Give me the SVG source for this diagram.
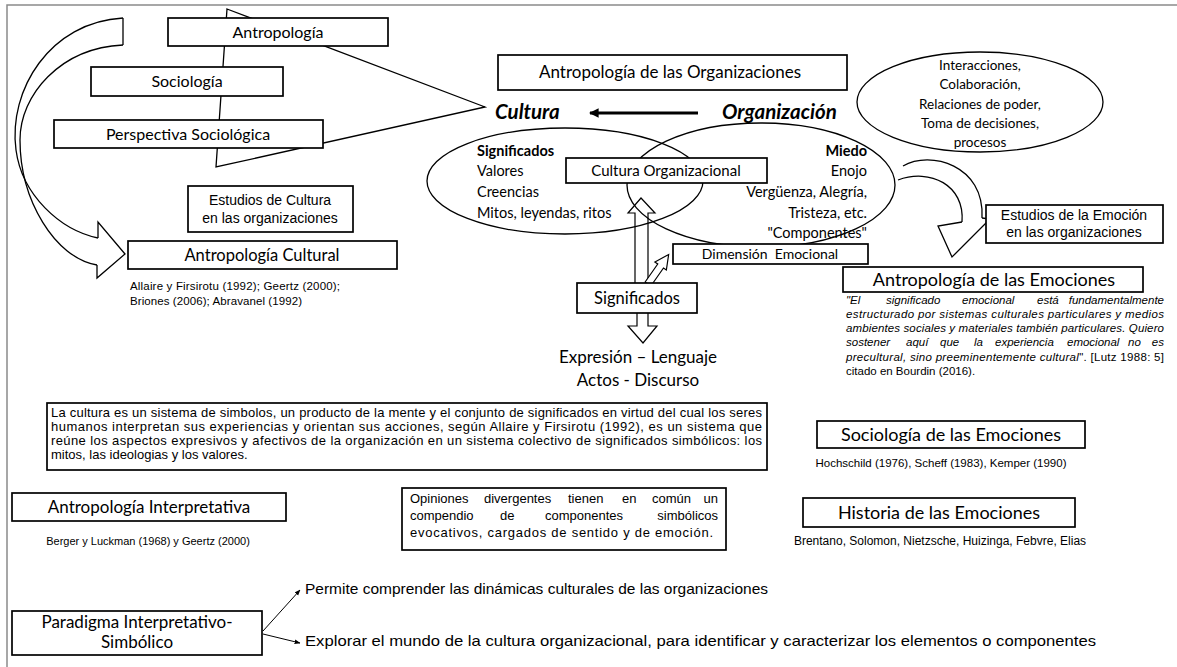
<svg xmlns="http://www.w3.org/2000/svg" width="1177" height="667" viewBox="0 0 1177 667">
<style>
  .box { fill: #fff; stroke: #000; stroke-width: 1.7; }
  .ln { fill: none; stroke: #000; stroke-width: 1.3; }
  .blk { fill: #fff; stroke: #000; stroke-width: 1.2; }
  .t { font-family: Lato, "Open Sans", sans-serif; fill: #000; }
  .a { font-family: "Liberation Sans", Arial, sans-serif; fill: #000; }
  .c { text-anchor: middle; }
  .r { text-anchor: end; }
</style>
<defs>
  <marker id="arrL" viewBox="0 0 10 10" refX="9" refY="5" markerWidth="3.2" markerHeight="3.2" orient="auto">
    <path d="M0,0 L10,5 L0,10 Z" fill="#000"/>
  </marker>
  <marker id="arrS" viewBox="0 0 10 10" refX="9" refY="5" markerWidth="6" markerHeight="6" orient="auto">
    <path d="M0,1 L10,5 L0,9 Z" fill="#000"/>
  </marker>
</defs>
<rect width="1177" height="667" fill="#fff"/>
<!-- page frame -->
<path d="M7,667 L7,5 L1177,5" fill="none" stroke="#8a8a8a" stroke-width="1.5"/>

<g id="connectors">
  <!-- wedge gathering the disciplines towards Cultura -->
  <polygon points="227,9 485,107 216,167" class="ln"/>
  <!-- big curved arrow on the left -->
  <path class="ln" d="M123,18 L123,45"/>
  <path class="ln" d="M123,18 C50,22 8,90 16,150 C22,195 60,230 98,238"/>
  <path class="ln" d="M123,45 C60,48 20,95 20,140 C20,200 55,258 97,265"/>
  <path class="ln" d="M98,238 L98,222 L125,254 L97,278 L97,265"/>
  <!-- Organización to Cultura -->
  <line x1="698" y1="113" x2="590" y2="113" stroke="#000" stroke-width="3" marker-end="url(#arrL)"/>
  <!-- curved arrow on the right -->
  <path class="ln" d="M903,166 C930,150 985,165 982,218"/>
  <path class="ln" d="M898,180 C930,168 965,185 962,222"/>
  <path class="ln" d="M982,218 L990,219 L952,257 L938,226 L962,222"/>
  <!-- up / down block arrow through Significados -->
  <path class="blk" d="M635,300 L635,213 L628,213 L641,198 L655,213 L648,213 L648,300"/>
  <path class="blk" d="M637,313 L637,326 L628,326 L643,343 L657,326 L648,326 L648,313"/>
  <!-- small block arrow to Dimensión Emocional -->
  <path class="blk" transform="translate(648,284) rotate(-55)" d="M0,-3.5 L22,-3.5 L22,-7 L36,0 L22,7 L22,3.5 L0,3.5 Z"/>
  <!-- Paradigma branches -->
  <line x1="263" y1="631" x2="300" y2="590" stroke="#000" stroke-width="1" marker-end="url(#arrS)"/>
  <line x1="263" y1="634" x2="300" y2="643" stroke="#000" stroke-width="1" marker-end="url(#arrS)"/>
</g>

<g id="antropologia">
  <rect class="box" x="168" y="18" width="220" height="28"/>
  <text class="t c" x="278" y="38" font-size="16">Antropología</text>
</g>
<g id="sociologia">
  <rect class="box" x="91" y="67" width="192" height="29"/>
  <text class="t c" x="187" y="87" font-size="16">Sociología</text>
</g>
<g id="perspectiva">
  <rect class="box" x="54" y="120" width="269" height="28"/>
  <text class="t c" x="188" y="140" font-size="16">Perspectiva Sociológica</text>
</g>
<g id="estudios-cultura">
  <rect class="box" x="188" y="186" width="165" height="46" stroke-width="1.2"/>
  <text class="a c" x="270" y="205" font-size="14">Estudios de Cultura</text>
  <text class="a c" x="270" y="223" font-size="14">en las organizaciones</text>
</g>
<g id="antropologia-cultural">
  <rect class="box" x="128" y="241" width="269" height="28"/>
  <text class="t c" x="262" y="261" font-size="16.5">Antropología Cultural</text>
  <text class="a" x="130" y="290" font-size="11.5" textLength="210" lengthAdjust="spacing">Allaire y Firsirotu (1992); Geertz (2000);</text>
  <text class="a" x="130" y="305" font-size="11.5" textLength="172" lengthAdjust="spacing">Briones (2006); Abravanel (1992)</text>
</g>

<g id="antropologia-organizaciones">
  <rect class="box" x="498" y="55" width="349" height="35"/>
  <text class="t c" x="670" y="78" font-size="17">Antropología de las Organizaciones</text>
</g>
<g id="cultura">
  <text class="t" x="495" y="119" font-size="20.5" font-weight="bold" font-style="italic">Cultura</text>
</g>
<g id="organizacion">
  <text class="t" x="722" y="119" font-size="20.5" font-weight="bold" font-style="italic">Organización</text>
</g>
<g id="interacciones">
  <ellipse class="ln" cx="980" cy="102" rx="123" ry="50"/>
  <text class="t c" x="980" y="70" font-size="13.5">Interacciones,</text>
  <text class="t c" x="980" y="89" font-size="13.5">Colaboración,</text>
  <text class="t c" x="980" y="109" font-size="13.5">Relaciones de poder,</text>
  <text class="t c" x="980" y="128" font-size="13.5">Toma de decisiones,</text>
  <text class="t c" x="980" y="147" font-size="13.5">procesos</text>
</g>

<g id="significados-elipse">
  <ellipse class="ln" cx="565" cy="181" rx="138" ry="53"/>
  <text class="t" x="477" y="156" font-size="14.5" font-weight="bold">Significados</text>
  <text class="t" x="477" y="176" font-size="14.5">Valores</text>
  <text class="t" x="477" y="197" font-size="14.5">Creencias</text>
  <text class="t" x="477" y="218" font-size="14.5">Mitos, leyendas, ritos</text>
</g>
<g id="emociones-elipse">
  <ellipse class="ln" cx="761" cy="185" rx="134" ry="62"/>
  <text class="t r" x="867" y="156" font-size="14.5" font-weight="bold">Miedo</text>
  <text class="t r" x="867" y="176" font-size="14.5">Enojo</text>
  <text class="t r" x="867" y="197" font-size="14.5">Vergüenza, Alegría,</text>
  <text class="t r" x="867" y="218" font-size="14.5">Tristeza, etc.</text>
  <text class="t r" x="867" y="238" font-size="14.5">"Componentes"</text>
</g>
<g id="cultura-organizacional">
  <rect class="box" x="566" y="158" width="201" height="25"/>
  <text class="t c" x="666" y="176" font-size="15">Cultura Organizacional</text>
</g>
<g id="dimension-emocional">
  <rect class="box" x="673" y="244" width="195" height="20"/>
  <text class="t c" x="770" y="259" font-size="14" xml:space="preserve">Dimensión  Emocional</text>
</g>
<g id="significados">
  <rect class="box" x="577" y="283" width="120" height="30"/>
  <text class="t c" x="637" y="304" font-size="16.5">Significados</text>
</g>
<g id="expresion">
  <text class="t c" x="638" y="363" font-size="17">Expresión – Lenguaje</text>
  <text class="t c" x="638" y="386" font-size="17">Actos - Discurso</text>
</g>

<g id="estudios-emocion">
  <rect class="box" x="986" y="205" width="177" height="38" stroke-width="1.2"/>
  <text class="a c" x="1074" y="220" font-size="14">Estudios de la Emoción</text>
  <text class="a c" x="1074" y="237" font-size="14">en las organizaciones</text>
</g>
<g id="antropologia-emociones">
  <rect class="box" x="843" y="267" width="300" height="25"/>
  <text class="t c" x="994" y="286" font-size="18">Antropología de las Emociones</text>
  <g class="a" font-size="11.5" font-style="italic">
    <text x="846" y="304">"El</text>
    <text x="886" y="304">significado</text>
    <text x="962" y="304">emocional</text>
    <text x="1037" y="304">está</text>
    <text class="r" x="1164" y="304">fundamentalmente</text>
    <text x="846" y="318" textLength="318" lengthAdjust="spacing">estructurado por sistemas culturales particulares y medios</text>
    <text x="846" y="332" textLength="318" lengthAdjust="spacing">ambientes sociales y materiales también particulares. Quiero</text>
    <text x="846" y="346">sostener</text>
    <text x="906" y="346">aquí</text>
    <text x="940" y="346">que</text>
    <text x="974" y="346">la</text>
    <text x="995" y="346">experiencia</text>
    <text x="1067" y="346">emocional</text>
    <text x="1128" y="346">no</text>
    <text class="r" x="1164" y="346">es</text>
    <text x="846" y="361" textLength="318" lengthAdjust="spacing">precultural, sino preeminentemente cultural<tspan font-style="normal">". [Lutz 1988: 5]</tspan></text>
    <text x="846" y="375" font-style="normal">citado en Bourdin (2016).</text>
  </g>
</g>

<g id="definicion-cultura">
  <rect class="box" x="47" y="403" width="720" height="67" stroke-width="1.2"/>
  <g class="a" font-size="13">
    <text x="51" y="417" textLength="711" lengthAdjust="spacing">La cultura es un sistema de simbolos, un producto de la mente y el conjunto de significados en virtud del cual los seres</text>
    <text x="51" y="431" textLength="711" lengthAdjust="spacing">humanos interpretan sus experiencias y orientan sus acciones, según Allaire y Firsirotu (1992), es un sistema que</text>
    <text x="51" y="445" textLength="711" lengthAdjust="spacing">reúne los aspectos expresivos y afectivos de la organización en un sistema colectivo de significados simbólicos: los</text>
    <text x="51" y="459">mitos, las ideologias y los valores.</text>
  </g>
</g>

<g id="sociologia-emociones">
  <rect class="box" x="817" y="421" width="268" height="27"/>
  <text class="t c" x="951" y="441" font-size="18">Sociología de las Emociones</text>
  <text class="a c" x="941" y="467" font-size="11.5">Hochschild (1976), Scheff (1983), Kemper (1990)</text>
</g>
<g id="historia-emociones">
  <rect class="box" x="803" y="498" width="272" height="29"/>
  <text class="t c" x="939" y="519" font-size="18">Historia de las Emociones</text>
  <text class="a c" x="940" y="545" font-size="12">Brentano, Solomon, Nietzsche, Huizinga, Febvre, Elias</text>
</g>

<g id="antropologia-interpretativa">
  <rect class="box" x="12" y="493" width="274" height="28"/>
  <text class="t c" x="149" y="513" font-size="17">Antropología Interpretativa</text>
  <text class="a c" x="148" y="545" font-size="11">Berger y Luckman (1968) y Geertz (2000)</text>
</g>
<g id="opiniones">
  <rect class="box" x="402" y="488" width="324" height="62" stroke-width="1.2"/>
  <g class="a" font-size="13">
    <text x="410" y="503">Opiniones</text>
    <text x="484" y="503">divergentes</text>
    <text x="568" y="503">tienen</text>
    <text x="622" y="503">en</text>
    <text x="652" y="503">común</text>
    <text class="r" x="718" y="503">un</text>
    <text x="410" y="520">compendio</text>
    <text x="500" y="520">de</text>
    <text x="545" y="520">componentes</text>
    <text class="r" x="718" y="520">simbólicos</text>
    <text x="410" y="537" textLength="303" lengthAdjust="spacing">evocativos, cargados de sentido y de emoción.</text>
  </g>
</g>

<g id="paradigma">
  <rect class="box" x="12" y="611" width="250" height="44"/>
  <text class="t c" x="137" y="628" font-size="17">Paradigma Interpretativo-</text>
  <text class="t c" x="137" y="648" font-size="17">Simbólico</text>
</g>
<g id="permite">
  <text class="a" x="305" y="594" font-size="15" textLength="463" lengthAdjust="spacingAndGlyphs">Permite comprender las dinámicas culturales de las organizaciones</text>
</g>
<g id="explorar">
  <text class="a" x="305" y="646" font-size="15" textLength="791" lengthAdjust="spacingAndGlyphs">Explorar el mundo de la cultura organizacional,  para identificar y caracterizar los elementos o componentes</text>
</g>
</svg>
